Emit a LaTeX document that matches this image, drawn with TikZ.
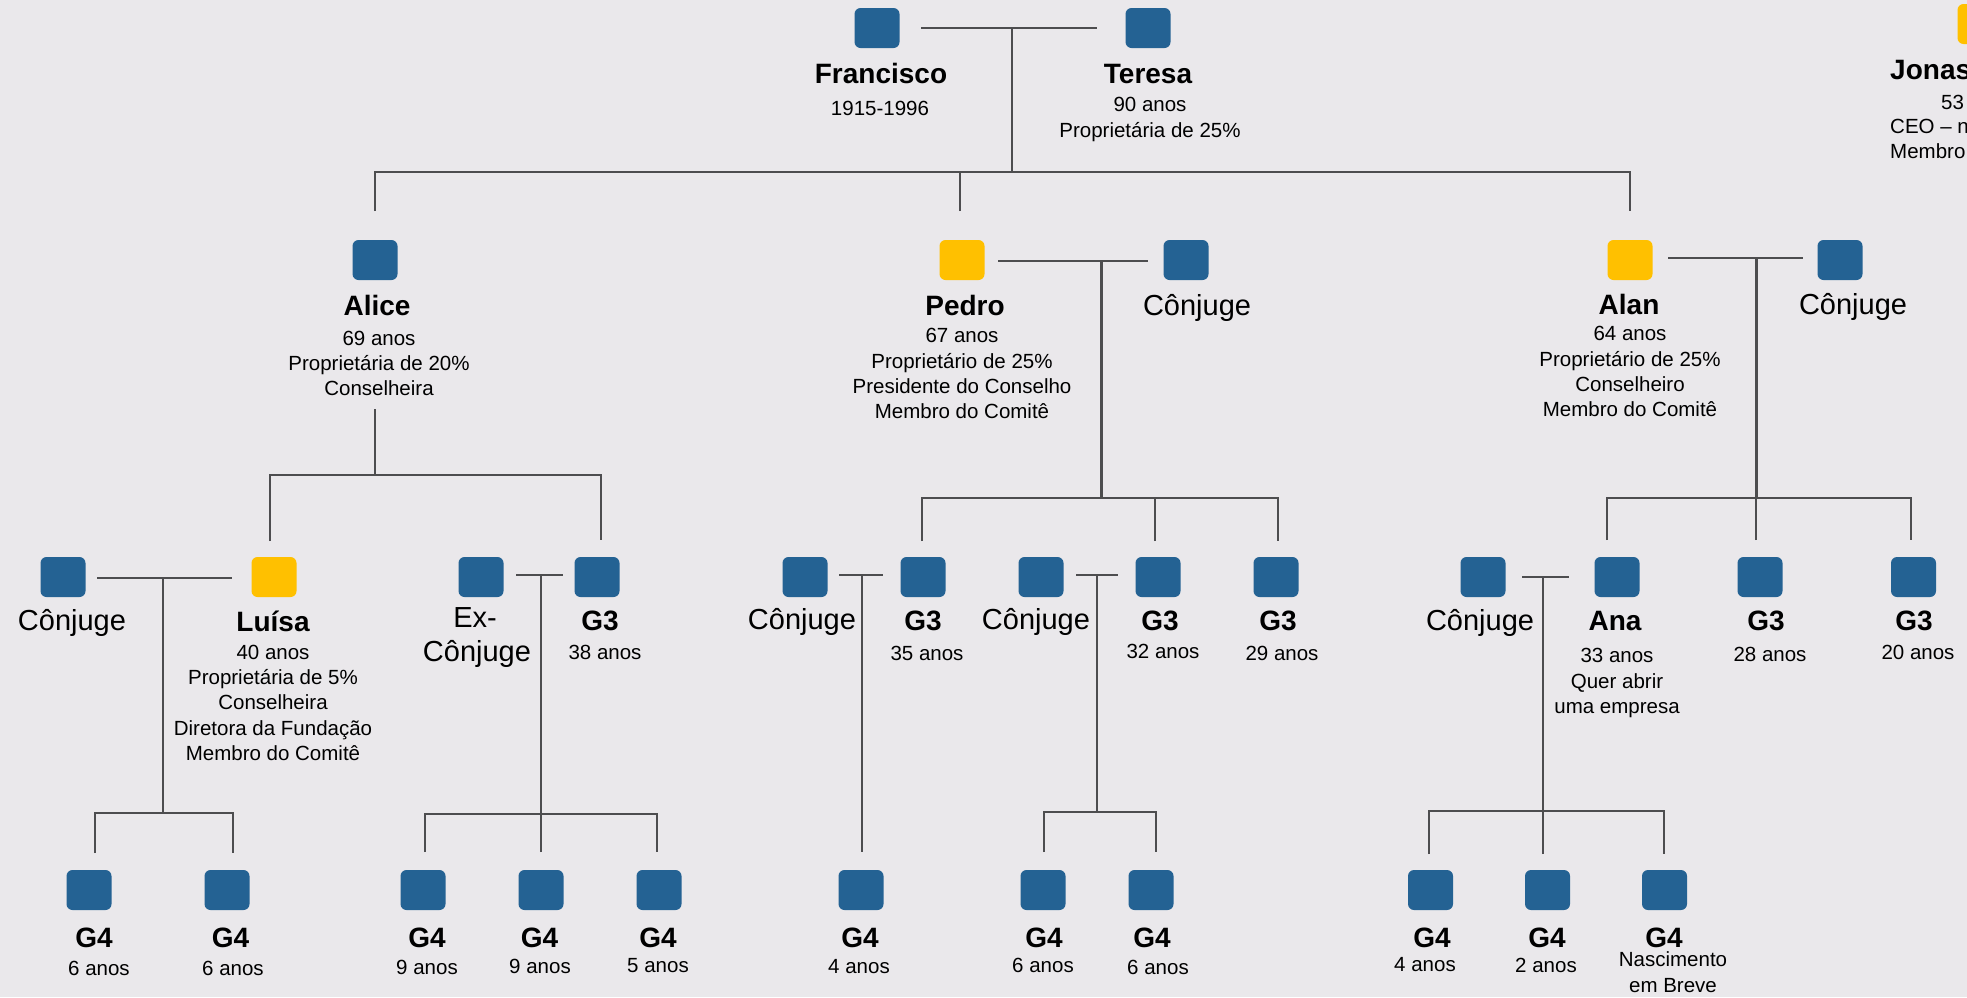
\documentclass[tikz,border=0pt]{standalone}
\usepackage{fontspec}
\setmainfont{Liberation Sans}
\definecolor{bgc}{HTML}{EAE8EB}
\definecolor{sqblue}{HTML}{246293}
\definecolor{sqgold}{HTML}{FFC000}
\definecolor{linec}{HTML}{4D4D4F}
\tikzset{
  sq/.style={rounded corners=6pt, minimum width=45pt, minimum height=40pt, inner sep=0pt, draw=none},
  bsq/.style={sq, fill=sqblue},
  gsq/.style={sq, fill=sqgold},
  nm/.style={font=\fontsize{28}{30}\selectfont\bfseries, inner sep=0pt, anchor=base},
  sp/.style={font=\fontsize{29}{31}\selectfont, inner sep=0pt, anchor=base},
  info/.style={font=\fontsize{20.5}{25}\selectfont, inner sep=0pt, anchor=base},
  ln/.style={draw=linec, line width=1.5pt},
  thk/.style={draw=linec, line width=3pt},
}
\newcommand{\infolines}[4]{%
  \foreach \t [count=\i] in {#4}{%
    \node[info] (#1-\i) at (#2,{#3+25.3*(\i-1)}) {\t};}}
\begin{document}
\begin{tikzpicture}[x=1pt,y=-1pt]
\useasboundingbox (0,0) rectangle (1967,997);
\fill[bgc] (0,0) rectangle (1967,997);
\clip (0,0) rectangle (1967,997);

% ---------- generation 1
\node[bsq] (fra) at (877,28) {};
\node[bsq] (ter) at (1148,28) {};
\node[gsq] (jon) at (1980,24) {};
\node[nm] (fraN) at (881,83) {Francisco};
\infolines{fraI}{880}{115}{1915-1996}
\node[nm] (terN) at (1148,83) {Teresa};
\infolines{terI}{1150}{111.7}{90 anos, Proprietária de 25\%}
\node[nm, anchor=base west] (jonN) at (1890,79) {Jonas};
\node[info, anchor=base west] (jonI1) at (1941,109) {53 anos};
\node[info, anchor=base west] (jonI2) at (1890,133.5) {CEO – n};
\node[info, anchor=base west] (jonI3) at (1890,158.5) {Membro do Comitê};

% ---------- generation 2
\node[bsq] (ali) at (375,260) {};
\node[gsq] (ped) at (962,260) {};
\node[bsq] (peds) at (1186,260) {};
\node[gsq] (ala) at (1630,260) {};
\node[bsq] (alas) at (1840,260) {};
\node[nm] (aliN) at (377,315) {Alice};
\infolines{aliI}{379}{345}{69 anos, Proprietária de 20\%, Conselheira}
\node[nm] (pedN) at (965,315) {Pedro};
\infolines{pedI}{962}{342.7}{67 anos, Proprietário de 25\%, Presidente do Conselho, Membro do Comitê}
\node[sp] (pedsN) at (1197,315) {Cônjuge};
\node[nm] (alaN) at (1629,314) {Alan};
\infolines{alaI}{1630}{340.7}{64 anos, Proprietário de 25\%, Conselheiro, Membro do Comitê}
\node[sp] (alasN) at (1853,314) {Cônjuge};

% ---------- generation 3
\node[bsq] (lsp) at (63,577) {};
\node[gsq] (lui) at (274,577) {};
\node[bsq] (exs) at (481,577) {};
\node[bsq] (g3a) at (597,577) {};
\node[bsq] (psp1) at (805,577) {};
\node[bsq] (g3b) at (923,577) {};
\node[bsq] (psp2) at (1041,577) {};
\node[bsq] (g3c) at (1158,577) {};
\node[bsq] (g3d) at (1276,577) {};
\node[bsq] (asp) at (1483,577) {};
\node[bsq] (ana) at (1617,577) {};
\node[bsq] (g3e) at (1760,577) {};
\node[bsq] (g3f) at (1913.5,577) {};

\node[sp] (lspN) at (72,630) {Cônjuge};
\node[nm] (luiN) at (273,631) {Luísa};
\infolines{luiI}{273}{659.3}{40 anos, Proprietária de 5\%, Conselheira, Diretora da Fundação, Membro do Comitê}
\node[sp] (exsN1) at (475,627) {Ex-};
\node[sp] (exsN2) at (477,661) {Cônjuge};
\node[nm] (g3aN) at (600,630) {G3};
\infolines{g3aI}{605}{659.3}{38 anos}
\node[sp] (psp1N) at (802,629) {Cônjuge};
\node[nm] (g3bN) at (923,630) {G3};
\infolines{g3bI}{927}{660}{35 anos}
\node[sp] (psp2N) at (1036,629) {Cônjuge};
\node[nm] (g3cN) at (1160,630) {G3};
\infolines{g3cI}{1163}{658.3}{32 anos}
\node[nm] (g3dN) at (1278,630) {G3};
\infolines{g3dI}{1282}{660}{29 anos}
\node[sp] (aspN) at (1480,630) {Cônjuge};
\node[nm] (anaN) at (1615,630) {Ana};
\infolines{anaI}{1617}{662.7}{33 anos, Quer abrir, uma empresa}
\node[nm] (g3eN) at (1766,630) {G3};
\infolines{g3eI}{1770}{661.7}{28 anos}
\node[nm] (g3fN) at (1914,630) {G3};
\infolines{g3fI}{1918}{659.3}{20 anos}

% ---------- generation 4
\foreach \x/\tx/\ax/\ay/\age [count=\k] in {
  89/94/99/975/6 anos, 227/230.5/233/975/6 anos,
  423/427/427/974/9 anos, 541/539.5/540/973/9 anos, 659/658/658/972/5 anos,
  861/860/859/973.3/4 anos, 1043/1044/1043/972.7/6 anos, 1151/1152/1158/974/6 anos,
  1430.5/1432/1425/971.7/4 anos, 1547.5/1547/1546/972/2 anos}{
  \node[bsq] (g4-\k) at (\x,890) {};
  \node[nm] (g4N-\k) at (\tx,947) {G4};
  \node[info] (g4I-\k) at (\ax,\ay) {\age};
}
\node[bsq] (g4-11) at (1664.5,890) {};
\node[nm] (g4N-11) at (1664,947) {G4};
\infolines{g4I-11}{1673}{966.7}{Nascimento, em Breve}

% ---------- connectors: Francisco & Teresa
\coordinate (c0l) at (921,28); \coordinate (c0r) at (1097,28);
\coordinate (c0m) at (1012,28); \coordinate (c0b) at (1012,172);
\coordinate (c0A) at (375,211); \coordinate (c0P) at (960,211); \coordinate (c0N) at (1630,211);
\draw[ln] (c0l) -- (c0r);
\draw[ln] (c0m) -- (c0b);
\draw[ln] (c0A) |- (c0b) -| (c0N);
\draw[ln] (c0P) -- (c0P |- c0b);

% Alice
\coordinate (caT) at (375,409); \coordinate (caB) at (375,475);
\coordinate (caL) at (270,541); \coordinate (caR) at (601,540);
\draw[ln] (caT) -- (caB);
\draw[ln] (caL) |- (caB) -| (caR);

% Pedro
\coordinate (cpl) at (998,261); \coordinate (cpr) at (1148,261);
\coordinate (cpm) at (1101,261); \coordinate (cpb) at (1101,498);
\coordinate (cp1) at (922,541); \coordinate (cp2) at (1155,541); \coordinate (cp3) at (1278,541);
\draw[ln] (cpl) -- (cpr);
\draw[thk] (cpm) -- (cpb);
\draw[ln] (cp1) |- (cpb) -| (cp3);
\draw[ln] (cp2) -- (cp2 |- cpb);

% Alan
\coordinate (cnl) at (1668,258); \coordinate (cnr) at (1803,258);
\coordinate (cnm) at (1756,258); \coordinate (cnb) at (1756,498);
\coordinate (cn1) at (1607,540); \coordinate (cn2) at (1756,540); \coordinate (cn3) at (1911,540);
\draw[ln] (cnl) -- (cnr);
\draw[thk] (cnm) -- (cnb);
\draw[ln] (cn1) |- (cnb) -| (cn3);
\draw[ln] (cn2) -- (cnb);

% Luisa
\coordinate (cll) at (97,578); \coordinate (clr) at (232,578);
\coordinate (clm) at (163,578); \coordinate (clb) at (163,813);
\coordinate (cl1) at (95,853); \coordinate (cl2) at (233,853);
\draw[ln] (cll) -- (clr);
\draw[ln] (clm) -- (clb);
\draw[ln] (cl1) |- (clb) -| (cl2);

% Ex-conjuge
\coordinate (cel) at (516,575); \coordinate (cer) at (563,575);
\coordinate (cem) at (541,575); \coordinate (ceb) at (541,814);
\coordinate (ce1) at (425,852); \coordinate (ce2) at (541,852); \coordinate (ce3) at (657,852);
\draw[ln] (cel) -- (cer);
\draw[thk, line width=2.5pt] (cem) -- (ceb);
\draw[ln] (ce1) |- (ceb) -| (ce3);
\draw[ln] (ce2) -- (ceb);

% Pedro's first child
\coordinate (cql) at (839,575); \coordinate (cqr) at (883,575);
\coordinate (cqm) at (862,575); \coordinate (cq1) at (862,852);
\draw[ln] (cql) -- (cqr);
\draw[ln] (cqm) -- (cq1);

% Pedro's second child
\coordinate (crl) at (1076,575); \coordinate (crr) at (1118,575);
\coordinate (crm) at (1097,575); \coordinate (crb) at (1097,812);
\coordinate (cr1) at (1044,852); \coordinate (cr2) at (1156,852);
\draw[ln] (crl) -- (crr);
\draw[ln] (crm) -- (crb);
\draw[ln] (cr1) |- (crb) -| (cr2);

% Ana
\coordinate (csl) at (1522,577); \coordinate (csr) at (1569,577);
\coordinate (csm) at (1543,577); \coordinate (csb) at (1543,811);
\coordinate (cs1) at (1429,854); \coordinate (cs2) at (1543,854); \coordinate (cs3) at (1664,854);
\draw[ln] (csl) -- (csr);
\draw[ln, line width=2pt] (csm) -- (csb);
\draw[ln] (cs1) |- (csb) -| (cs3);
\draw[ln] (cs2) -- (csb);
\end{tikzpicture}
\end{document}
